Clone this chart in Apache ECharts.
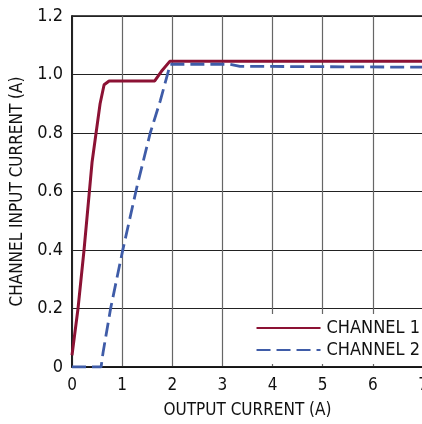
<!DOCTYPE html>
<html>
<head>
<meta charset="utf-8">
<script src="https://cdn.jsdelivr.net/npm/echarts@6/dist/echarts.min.js"></script>
<style>
  html, body { margin: 0; padding: 0; background: #fff; }
</style>
</head>
<body>
<div id='lineChart' style='height:424px;width:422px'></div>
<script>
// values (x: output current A, y: channel input current A)
const channel1 = [
  [0, 0.04], [0.12, 0.2], [0.24, 0.4], [0.4, 0.7], [0.56, 0.9], [0.64, 0.965],
  [0.74, 0.978], [1.65, 0.978], [1.78, 1.01], [1.95, 1.045], [7, 1.045]
]
const channel2 = [
  [0, 0], [0.58, 0], [0.62, 0.05], [0.77, 0.2], [1.0, 0.39], [1.3, 0.62],
  [1.56, 0.8], [1.76, 0.91], [1.96, 1.035], [3.15, 1.035], [3.35, 1.028], [7, 1.025]
]
const seriesNames = ['CHANNEL 1', 'CHANNEL 2']
const xTitle = 'OUTPUT CURRENT (A)'
const yTitle = 'CHANNEL INPUT CURRENT (A)'

const font = '"DejaVu Sans Condensed", "Liberation Sans Narrow", sans-serif'

const chart = echarts.init(document.getElementById('lineChart'))
const option = {
  animation: false,
  textStyle: { fontFamily: font },
  grid: {
    left: 72, top: 16, right: -1, bottom: 57,
    outerBoundsMode: 'none',
    containLabel: false,
    show: true,
    borderColor: '#111',
    borderWidth: 1.5
  },
  legend: {
    orient: 'vertical',
    right: 0,
    top: 314,
    padding: [5, 2, 5, 4],
    itemGap: 4,
    itemWidth: 64,
    itemHeight: 18,
    backgroundColor: '#fff',
    data: seriesNames,
    itemStyle: { opacity: 0 },
    textStyle: { fontFamily: font, fontSize: 18, color: '#111', padding: [0, 0, 0, 1] }
  },
  xAxis: {
    type: 'value',
    min: 0, max: 7, interval: 1,
    name: xTitle,
    nameLocation: 'middle',
    nameGap: 35,
    nameTextStyle: { fontFamily: font, fontSize: 17, color: '#111' },
    axisLine: { lineStyle: { color: '#111', width: 1.5 } },
    axisTick: { show: false },
    axisLabel: { fontFamily: font, fontSize: 17, color: '#111', margin: 10 },
    splitLine: { lineStyle: { color: '#666', width: 1.2 } }
  },
  yAxis: {
    type: 'value',
    min: 0, max: 1.2, interval: 0.2,
    name: yTitle,
    nameLocation: 'middle',
    nameGap: 43,
    nameTextStyle: { fontFamily: font, fontSize: 17, color: '#111' },
    axisLine: { show: true, lineStyle: { color: '#111', width: 1.5 } },
    axisTick: { show: false },
    axisLabel: {
      fontFamily: font, fontSize: 18, color: '#111', margin: 9,
      formatter: v => v === 0 ? '0' : v.toFixed(1)
    },
    splitLine: { lineStyle: { color: '#222', width: 1.2 } }
  },
  series: [
    {
      name: seriesNames[0],
      type: 'line',
      data: channel1,
      symbol: 'none',
      z: 3,
      color: '#8c1234',
      lineStyle: { color: '#8c1234', width: 3 }
    },
    {
      name: seriesNames[1],
      type: 'line',
      data: channel2,
      symbol: 'none',
      z: 4,
      color: '#3f5ca8',
      lineStyle: { color: '#3f5ca8', width: 2.8, type: [14, 6] }
    }
  ]
}
chart.setOption(option)
</script>
</body>
</html>
